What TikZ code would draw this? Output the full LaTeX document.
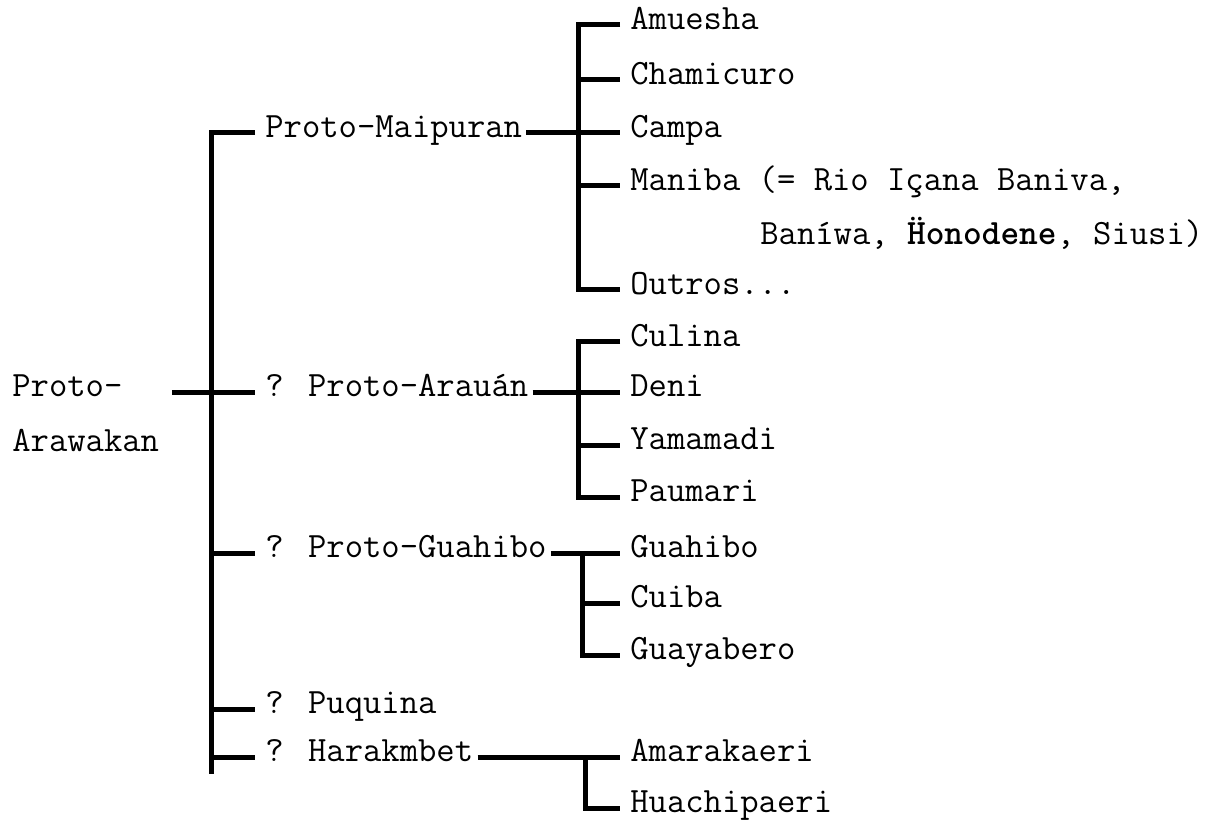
\documentclass[tikz,border=0pt]{standalone}
\usepackage{fontspec}
\begin{document}
\begin{tikzpicture}[x=0.5pt,y=-0.5pt,
  lbl/.style={font=\ttfamily\fontsize{17.8pt}{20pt}\selectfont, anchor=mid west, inner sep=0pt},
  br/.style={line width=2.5pt, line join=miter, line cap=butt}]
\useasboundingbox (0,0) rectangle (1214,823);
% root
\node[lbl] (r1) at (12,392) {Proto-};
\node[lbl] (r2) at (12,447) {Arawakan};
% first level
\node[lbl] (pm) at (265,133) {Proto-Maipuran};
\node[lbl] (pa) at (265,392) {? Proto-Arauán};
\node[lbl] (pg) at (265,553) {? Proto-Guahibo};
\node[lbl] (pq) at (265,709) {? Puquina};
\node[lbl] (ph) at (265,757) {? Harakmbet};
% leaves
\node[lbl] (amuesha) at (630,25) {Amuesha};
\node[lbl] (chamicuro) at (630,80) {Chamicuro};
\node[lbl] (campa) at (630,133) {Campa};
\node[lbl] (maniba) at (630,186) {Maniba (= Rio Içana Baniva,};
\node[lbl] (maniba2) at (760,240) {Baníwa, \textbf{Ḧonodene}, Siusi)};
\node[lbl] (outros) at (630,290) {Outros...};
\node[lbl] (culina) at (630,342) {Culina};
\node[lbl] (deni) at (630,392) {Deni};
\node[lbl] (yamamadi) at (630,445) {Yamamadi};
\node[lbl] (paumari) at (630,497) {Paumari};
\node[lbl] (guahibo) at (630,553) {Guahibo};
\node[lbl] (cuiba) at (630,603) {Cuiba};
\node[lbl] (guayabero) at (630,655) {Guayabero};
\node[lbl] (amarakaeri) at (630,757) {Amarakaeri};
\node[lbl] (huachipaeri) at (630,808) {Huachipaeri};
% bracket coordinates
\coordinate (mtop) at (211,133);
\coordinate (mbot) at (211,774);
\coordinate (sm) at (578,0);
\coordinate (sa) at (578,0);
\coordinate (sg) at (582,0);
\coordinate (sh) at (585,0);
% main bracket
\draw[br] ([xshift=-5pt]pm.mid west) -- (mtop) -- (mbot);
\draw[br] ([xshift=24.5pt]r1.mid east) -- ([xshift=-5pt]pa.mid west);
\draw[br] (mtop |- pg.mid west) -- ([xshift=-5pt]pg.mid west);
\draw[br] (mtop |- pq.mid west) -- ([xshift=-5pt]pq.mid west);
\draw[br] (mtop |- ph.mid west) -- ([xshift=-5pt]ph.mid west);
% Maipuran
\draw[br] ([xshift=-5pt]amuesha.mid west) -| (sm |- outros.mid west) -- ([xshift=-5pt]outros.mid west);
\draw[br] (sm |- chamicuro.mid west) -- ([xshift=-5pt]chamicuro.mid west);
\draw[br] ([xshift=2pt]pm.mid east) -- ([xshift=-5pt]campa.mid west);
\draw[br] (sm |- maniba.mid west) -- ([xshift=-5pt]maniba.mid west);
% Arauan
\draw[br] ([xshift=-5pt]culina.mid west) -| (sa |- paumari.mid west) -- ([xshift=-5pt]paumari.mid west);
\draw[br] ([xshift=2pt]pa.mid east) -- ([xshift=-5pt]deni.mid west);
\draw[br] (sa |- yamamadi.mid west) -- ([xshift=-5pt]yamamadi.mid west);
% Guahibo
\draw[br] ([xshift=2pt]pg.mid east) -- ([xshift=-5pt]guahibo.mid west);
\draw[br] (sg |- guahibo.mid west) -- (sg |- guayabero.mid west) -- ([xshift=-5pt]guayabero.mid west);
\draw[br] (sg |- cuiba.mid west) -- ([xshift=-5pt]cuiba.mid west);
% Harakmbet
\draw[br] ([xshift=2pt]ph.mid east) -- ([xshift=-5pt]amarakaeri.mid west);
\draw[br] (sh |- amarakaeri.mid west) -- (sh |- huachipaeri.mid west) -- ([xshift=-5pt]huachipaeri.mid west);
\end{tikzpicture}
\end{document}
